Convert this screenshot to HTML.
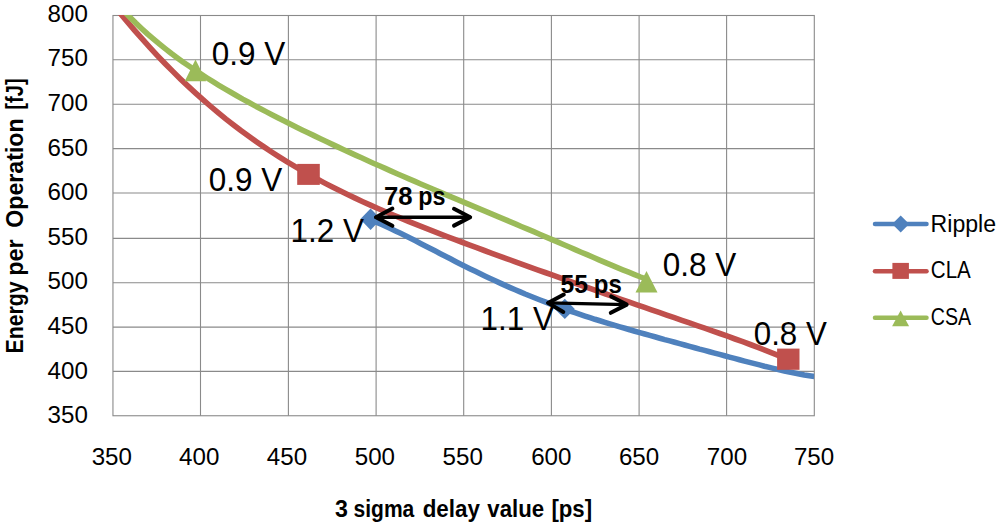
<!DOCTYPE html>
<html><head><meta charset="utf-8"><style>
html,body{margin:0;padding:0;background:#fff;}
svg{display:block;}
text{font-family:"Liberation Sans",sans-serif;fill:#000;white-space:pre;}
</style></head><body>
<svg width="1000" height="525" viewBox="0 0 1000 525">
<defs><clipPath id="pa"><rect x="112.95" y="15.0" width="701.35" height="400.75"/></clipPath></defs>
<rect width="1000" height="525" fill="#fff"/>
<g stroke="#8a8a8a" stroke-width="1.1" fill="none">
<line x1="200.50" y1="15.5" x2="200.50" y2="415.75"/>
<line x1="288.40" y1="15.5" x2="288.40" y2="415.75"/>
<line x1="376.10" y1="15.5" x2="376.10" y2="415.75"/>
<line x1="463.70" y1="15.5" x2="463.70" y2="415.75"/>
<line x1="551.40" y1="15.5" x2="551.40" y2="415.75"/>
<line x1="639.10" y1="15.5" x2="639.10" y2="415.75"/>
<line x1="726.60" y1="15.5" x2="726.60" y2="415.75"/>
<line x1="112.95" y1="59.80" x2="814.30" y2="59.80"/>
<line x1="112.95" y1="104.25" x2="814.30" y2="104.25"/>
<line x1="112.95" y1="148.60" x2="814.30" y2="148.60"/>
<line x1="112.95" y1="193.00" x2="814.30" y2="193.00"/>
<line x1="112.95" y1="238.35" x2="814.30" y2="238.35"/>
<line x1="112.95" y1="282.70" x2="814.30" y2="282.70"/>
<line x1="112.95" y1="327.15" x2="814.30" y2="327.15"/>
<line x1="112.95" y1="371.40" x2="814.30" y2="371.40"/>
<rect x="112.95" y="15.5" width="701.35" height="400.25"/>
</g>
<g clip-path="url(#pa)" fill="none" stroke-width="5.6" stroke-linejoin="round">
<polyline stroke="#C0504D" points="112.0,3.3 119.6,12.6 127.2,21.7 134.8,30.6 142.4,39.2 150.0,47.6 157.6,55.8 165.2,63.7 172.8,71.4 180.4,78.9 188.0,86.1 195.6,93.1 203.2,99.9 210.8,106.5 218.4,112.9 226.0,119.1 233.6,125.0 241.2,130.8 248.8,136.3 256.4,141.7 264.0,146.9 271.6,152.0 279.2,156.9 286.8,161.6 294.4,166.2 302.0,170.6 309.6,174.9 317.2,179.0 324.8,183.1 332.4,187.0 340.0,190.8 347.6,194.5 355.2,198.1 362.8,201.7 370.4,205.1 378.0,208.5 385.6,211.8 393.2,215.0 400.8,218.2 408.4,221.3 416.0,224.4 423.6,227.4 431.2,230.4 438.8,233.4 446.4,236.3 453.9,239.2 461.5,242.0 469.1,244.9 476.7,247.7 484.3,250.5 491.9,253.3 499.5,256.1 507.1,258.8 514.7,261.6 522.3,264.3 529.9,267.1 537.5,269.8 545.1,272.5 552.7,275.2 560.3,277.9 567.9,280.6 575.5,283.3 583.1,286.0 590.7,288.6 598.3,291.3 605.9,294.0 613.5,296.6 621.1,299.3 628.7,301.9 636.3,304.6 643.9,307.2 651.5,309.8 659.1,312.4 666.7,315.1 674.3,317.7 681.9,320.3 689.5,322.9 697.1,325.6 704.7,328.2 712.3,330.9 719.9,333.5 727.5,336.2 735.1,339.0 742.7,341.7 750.3,344.5 757.9,347.4 765.5,350.3 773.1,353.3 780.7,356.4 788.3,359.6"/>
<polyline stroke="#9BBB59" points="118.0,4.6 123.9,11.1 129.9,17.2 135.8,23.1 141.8,28.7 147.7,34.1 153.6,39.2 159.6,44.2 165.5,48.9 171.4,53.5 177.4,57.9 183.3,62.2 189.3,66.3 195.2,70.3 201.1,74.2 207.1,78.0 213.0,81.7 218.9,85.3 224.9,88.9 230.8,92.3 236.8,95.7 242.7,99.1 248.6,102.3 254.6,105.6 260.5,108.7 266.5,111.9 272.4,114.9 278.3,118.0 284.3,121.0 290.2,124.0 296.1,127.0 302.1,129.9 308.0,132.8 314.0,135.6 319.9,138.5 325.8,141.3 331.8,144.1 337.7,146.9 343.7,149.7 349.6,152.4 355.5,155.1 361.5,157.8 367.4,160.5 373.3,163.2 379.3,165.8 385.2,168.4 391.2,171.1 397.1,173.7 403.0,176.3 409.0,178.8 414.9,181.4 420.8,184.0 426.8,186.5 432.7,189.0 438.7,191.6 444.6,194.1 450.5,196.6 456.5,199.1 462.4,201.6 468.4,204.1 474.3,206.6 480.2,209.1 486.2,211.6 492.1,214.1 498.0,216.6 504.0,219.1 509.9,221.6 515.9,224.1 521.8,226.7 527.7,229.2 533.7,231.7 539.6,234.3 545.6,236.8 551.5,239.4 557.4,241.9 563.4,244.5 569.3,247.0 575.2,249.6 581.2,252.2 587.1,254.7 593.1,257.3 599.0,259.8 604.9,262.4 610.9,264.9 616.8,267.4 622.7,269.8 628.7,272.2 634.6,274.6 640.6,277.0 646.5,279.2"/>
<polyline stroke="#4F81BD" points="370.6,219.8 375.6,221.9 380.6,224.0 385.6,226.2 390.5,228.5 395.5,230.9 400.5,233.3 405.5,235.8 410.5,238.3 415.5,240.8 420.5,243.4 425.4,245.9 430.4,248.5 435.4,251.1 440.4,253.7 445.4,256.2 450.4,258.8 455.4,261.4 460.3,263.9 465.3,266.4 470.3,268.9 475.3,271.3 480.3,273.8 485.3,276.2 490.2,278.5 495.2,280.8 500.2,283.1 505.2,285.4 510.2,287.6 515.2,289.8 520.2,291.9 525.1,294.0 530.1,296.0 535.1,298.0 540.1,300.0 545.1,301.9 550.1,303.8 555.1,305.7 560.0,307.5 565.0,309.3 570.0,311.0 575.0,312.7 580.0,314.4 585.0,316.1 590.0,317.7 594.9,319.3 599.9,320.8 604.9,322.4 609.9,323.9 614.9,325.4 619.9,326.9 624.9,328.3 629.8,329.8 634.8,331.2 639.8,332.6 644.8,334.0 649.8,335.4 654.8,336.8 659.8,338.2 664.7,339.6 669.7,340.9 674.7,342.3 679.7,343.6 684.7,345.0 689.7,346.4 694.7,347.7 699.6,349.1 704.6,350.4 709.6,351.8 714.6,353.1 719.6,354.4 724.6,355.8 729.5,357.1 734.5,358.4 739.5,359.8 744.5,361.1 749.5,362.4 754.5,363.6 759.5,364.9 764.4,366.2 769.4,367.4 774.4,368.6 779.4,369.8 784.4,370.9 789.4,372.0 794.4,373.0 799.3,374.0 804.3,375.0 809.3,375.8 814.3,376.6"/>
</g>
<g fill="#C0504D">
<rect x="297.2" y="163.9" width="22.6" height="21"/>
<rect x="777.1" y="348.6" width="22.4" height="21.2"/>
</g>
<g fill="#9BBB59">
<polygon points="195.5,59.4 184.7,81.3 206.3,81.3"/>
<polygon points="646.5,271.1 635.5,292.5 657.5,292.5"/>
</g>
<g fill="#4F81BD">
<polygon points="370.6,208.39999999999998 381.0,219.2 370.6,230.0 360.20000000000005,219.2"/>
<polygon points="564.8,298.7 574.8,308.9 564.8,319.09999999999997 554.8,308.9"/>
</g>
<g font-size="23">
<text x="87.9" y="21.7" text-anchor="end" textLength="40.3" lengthAdjust="spacingAndGlyphs">800</text>
<text x="87.9" y="66.3" text-anchor="end" textLength="40.3" lengthAdjust="spacingAndGlyphs">750</text>
<text x="87.9" y="110.9" text-anchor="end" textLength="40.3" lengthAdjust="spacingAndGlyphs">700</text>
<text x="87.9" y="155.5" text-anchor="end" textLength="40.3" lengthAdjust="spacingAndGlyphs">650</text>
<text x="87.9" y="200.1" text-anchor="end" textLength="40.3" lengthAdjust="spacingAndGlyphs">600</text>
<text x="87.9" y="244.8" text-anchor="end" textLength="40.3" lengthAdjust="spacingAndGlyphs">550</text>
<text x="87.9" y="289.4" text-anchor="end" textLength="40.3" lengthAdjust="spacingAndGlyphs">500</text>
<text x="87.9" y="334.0" text-anchor="end" textLength="40.3" lengthAdjust="spacingAndGlyphs">450</text>
<text x="87.9" y="378.6" text-anchor="end" textLength="40.3" lengthAdjust="spacingAndGlyphs">400</text>
<text x="87.9" y="423.2" text-anchor="end" textLength="40.3" lengthAdjust="spacingAndGlyphs">350</text>
<text x="111.8" y="464.9" text-anchor="middle" textLength="40.3" lengthAdjust="spacingAndGlyphs">350</text>
<text x="199.2" y="464.9" text-anchor="middle" textLength="40.3" lengthAdjust="spacingAndGlyphs">400</text>
<text x="287.0" y="464.9" text-anchor="middle" textLength="40.3" lengthAdjust="spacingAndGlyphs">450</text>
<text x="374.9" y="464.9" text-anchor="middle" textLength="40.3" lengthAdjust="spacingAndGlyphs">500</text>
<text x="462.7" y="464.9" text-anchor="middle" textLength="40.3" lengthAdjust="spacingAndGlyphs">550</text>
<text x="551.3" y="464.9" text-anchor="middle" textLength="40.3" lengthAdjust="spacingAndGlyphs">600</text>
<text x="639.1" y="464.9" text-anchor="middle" textLength="40.3" lengthAdjust="spacingAndGlyphs">650</text>
<text x="727.0" y="464.9" text-anchor="middle" textLength="40.3" lengthAdjust="spacingAndGlyphs">700</text>
<text x="814.1" y="464.9" text-anchor="middle" textLength="40.3" lengthAdjust="spacingAndGlyphs">750</text>
</g>
<text x="334.99" y="516.9" font-size="23" font-weight="bold" textLength="12.91" lengthAdjust="spacingAndGlyphs">3</text>
<text x="353.59" y="516.9" font-size="23" font-weight="bold" textLength="60.74" lengthAdjust="spacingAndGlyphs">sigma</text>
<text x="422.63" y="516.9" font-size="23" font-weight="bold" textLength="57.21" lengthAdjust="spacingAndGlyphs">delay</text>
<text x="487.30" y="516.9" font-size="23" font-weight="bold" textLength="56.80" lengthAdjust="spacingAndGlyphs">value</text>
<text x="551.43" y="516.9" font-size="23" font-weight="bold" textLength="40.70" lengthAdjust="spacingAndGlyphs">[ps]</text>
<g transform="translate(22.9,0) rotate(-90)">
<text x="-353.45" y="0" font-size="23" font-weight="bold" textLength="72.14" lengthAdjust="spacingAndGlyphs">Energy</text>
<text x="-275.74" y="0" font-size="23" font-weight="bold" textLength="36.45" lengthAdjust="spacingAndGlyphs">per</text>
<text x="-227.81" y="0" font-size="23" font-weight="bold" textLength="109.44" lengthAdjust="spacingAndGlyphs">Operation</text>
<text x="-109.68" y="0" font-size="23" font-weight="bold" textLength="31.34" lengthAdjust="spacingAndGlyphs">[fJ]</text>
</g>
<g font-size="32.6">
<text x="211.8" y="65.2" textLength="73.5" lengthAdjust="spacingAndGlyphs">0.9 V</text>
<text x="208.8" y="190.5" textLength="73.5" lengthAdjust="spacingAndGlyphs">0.9 V</text>
<text x="290.5" y="241.8" textLength="73.5" lengthAdjust="spacingAndGlyphs">1.2 V</text>
<text x="480.5" y="329.5" textLength="73.5" lengthAdjust="spacingAndGlyphs">1.1 V</text>
<text x="662.8" y="276" textLength="73.5" lengthAdjust="spacingAndGlyphs">0.8 V</text>
<text x="753.8" y="345" textLength="73" lengthAdjust="spacingAndGlyphs">0.8 V</text>
</g>
<text x="383.91" y="205.3" font-size="26" font-weight="bold" textLength="28.60" lengthAdjust="spacingAndGlyphs">78</text>
<text x="418.31" y="205.3" font-size="26" font-weight="bold" textLength="27.20" lengthAdjust="spacingAndGlyphs">ps</text>
<text x="560.55" y="293.1" font-size="26" font-weight="bold" textLength="27.42" lengthAdjust="spacingAndGlyphs">55</text>
<text x="593.86" y="293.1" font-size="26" font-weight="bold" textLength="27.98" lengthAdjust="spacingAndGlyphs">ps</text>
<g stroke="#000" stroke-linecap="round" stroke-linejoin="round" fill="none">
<line x1="376" y1="217.2" x2="470" y2="217.2" stroke-width="3.4"/>
<polyline points="392.4,208.6 376,217.2 392.4,225.8" stroke-width="4"/>
<polyline points="454,208.8 470.2,217.2 454,225.6" stroke-width="4"/>
<line x1="548.2" y1="302.9" x2="626.5" y2="304.6" stroke-width="3.4"/>
<polyline points="563.8,294.6 548,302.9 563.3,312" stroke-width="4"/>
<polyline points="611.2,296.4 626.7,304.6 610.8,312.8" stroke-width="4"/>
</g>
<g stroke-width="4.5" stroke-linecap="round">
<line x1="875" y1="224" x2="926.5" y2="224" stroke="#4F81BD"/>
<line x1="875" y1="271.3" x2="926.5" y2="271.3" stroke="#C0504D"/>
<line x1="875" y1="317.8" x2="926.5" y2="317.8" stroke="#9BBB59"/>
</g>
<polygon fill="#4F81BD" points="900.7,215.6 909.2,224 900.7,232.5 892.2,224"/>
<rect fill="#C0504D" x="892.4" y="262.9" width="16.5" height="16"/>
<polygon fill="#9BBB59" points="900.6,310.5 892.1,326.3 909.1,326.3"/>
<g font-size="23">
<text x="930.6" y="231.6" textLength="65.5" lengthAdjust="spacingAndGlyphs">Ripple</text>
<text x="930.8" y="277.9" textLength="40" lengthAdjust="spacingAndGlyphs">CLA</text>
<text x="930.8" y="325.4" textLength="40.3" lengthAdjust="spacingAndGlyphs">CSA</text>
</g>
</svg>
</body></html>
